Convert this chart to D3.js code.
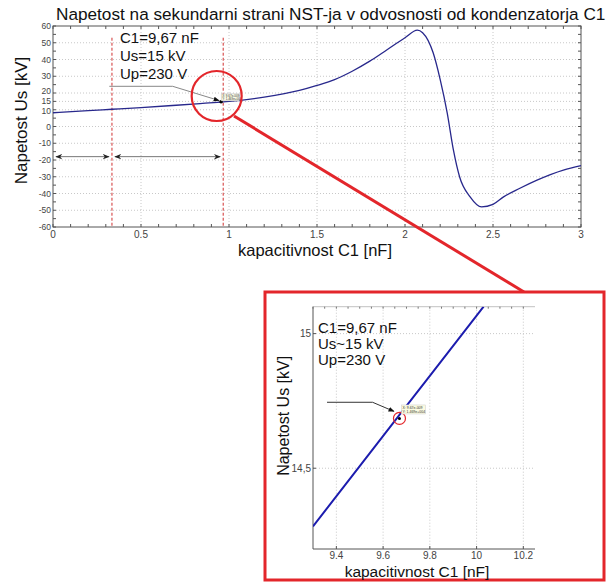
<!DOCTYPE html>
<html>
<head>
<meta charset="utf-8">
<script src="https://cdn.jsdelivr.net/npm/d3@7/dist/d3.min.js"></script>
<style>
  body { margin: 0; background: #fff; }
  svg { display: block; font-family: "Liberation Sans", Arial, sans-serif; }
</style>
</head>
<body>
<svg id="chart" width="609" height="582"></svg>
<script>
// main chart data (C1 in nF, Us in kV)
const mainX = [0, 0.2, 0.335, 0.5, 0.7, 0.85, 0.967, 1.2, 1.4, 1.5, 1.6, 1.7, 1.8, 1.9, 2.0, 2.07, 2.1, 2.16, 2.2, 2.24, 2.275, 2.31, 2.37, 2.435, 2.5, 2.56, 2.65, 2.75, 2.9, 3.0];
const mainY = [8.2, 9.5, 10.3, 11.3, 12.7, 13.8, 14.67, 17.5, 21.5, 24.5, 28, 33, 39, 46, 53, 57.5, 56, 44, 28, 8, -14, -30, -42, -48, -46.5, -42, -37, -32, -26, -23.4];
const xTicks = [0, 0.5, 1, 1.5, 2, 2.5, 3];
const yTicks = [60, 50, 40, 30, 20, 15, 10, 0, -10, -20, -30, -40, -50, -60];
const dashedX = [0.335, 0.967];
const spanStarts = [0, 0.335];
const spanEnds = [0.335, 0.967];
const spanY = -18;
const mainNotes = ["C1=9,67 nF", "Us=15 kV", "Up=230 V"];

// zoomed inset data
const insetX = [9.3, 9.5, 9.67, 9.8, 10.03];
const insetY = [14.284, 14.508, 14.698, 14.843, 15.1];
const insetXTicks = [9.4, 9.6, 9.8, 10, 10.2];
const insetXLabels = ["9.4", "9.6", "9.8", "10", "10.2"];
const insetYTicks = [14.5, 15];
const insetYLabels = ["14,5", "15"];
const insetNotes = ["C1=9,67 nF", "Us~15 kV", "Up=230 V"];
const tipText = ["X: 9.67e-009", "Y: 1.469e+004"];

const svg = d3.select('#chart');
const lineColor = '#28288c';
const gridColor = '#c8c8c8';
const red = '#e3262b';

// ---------- main plot ----------
const x = d3.scaleLinear().domain([0, 3]).range([53, 581]);
const y = d3.scaleLinear().domain([-60, 60]).range([227, 26]);

const main = svg.append('g');

main.append('g').selectAll('line').data(xTicks.slice(1, -1)).join('line')
  .attr('x1', d => x(d)).attr('x2', d => x(d))
  .attr('y1', y(60)).attr('y2', y(-60))
  .attr('stroke', gridColor).attr('stroke-dasharray', '1,2');
main.append('g').selectAll('line').data(yTicks.slice(1, -1)).join('line')
  .attr('x1', x(0)).attr('x2', x(3))
  .attr('y1', d => y(d)).attr('y2', d => y(d))
  .attr('stroke', gridColor).attr('stroke-dasharray', '1,2');

// box + axes
main.append('rect').attr('x', x(0)).attr('y', y(60))
  .attr('width', x(3) - x(0)).attr('height', y(-60) - y(60))
  .attr('fill', 'none').attr('stroke', '#555').attr('stroke-width', 1);

const minorX = d3.range(0, 3.001, 0.1);
const minorY = d3.range(-60, 60.001, 5);
main.append('g').selectAll('line').data(minorX).join('line')
  .attr('x1', d => x(d)).attr('x2', d => x(d))
  .attr('y1', y(-60)).attr('y2', y(-60) - 3).attr('stroke', '#555');
main.append('g').selectAll('line').data(minorX).join('line')
  .attr('x1', d => x(d)).attr('x2', d => x(d))
  .attr('y1', y(60)).attr('y2', y(60) + 3).attr('stroke', '#555');
main.append('g').selectAll('line').data(minorY).join('line')
  .attr('x1', x(0)).attr('x2', x(0) + 3)
  .attr('y1', d => y(d)).attr('y2', d => y(d)).attr('stroke', '#555');
main.append('g').selectAll('line').data(minorY).join('line')
  .attr('x1', x(3)).attr('x2', x(3) - 3)
  .attr('y1', d => y(d)).attr('y2', d => y(d)).attr('stroke', '#555');

main.append('g').selectAll('text').data(xTicks).join('text')
  .attr('x', d => x(d)).attr('y', y(-60) + 10.5)
  .attr('text-anchor', 'middle').attr('font-size', 10).attr('fill', '#444')
  .text(d => d);
// the 20 / 15 / 10 labels sit very close, nudge the outer two apart
const yNudge = d => (d === 20 ? -1.6 : d === 10 ? 1.6 : 0);
main.append('g').selectAll('text').data(yTicks).join('text')
  .attr('x', x(0) - 2).attr('y', d => y(d) + 3 + yNudge(d))
  .attr('text-anchor', 'end').attr('font-size', 8.5).attr('fill', '#444')
  .text(d => d);

// red dashed markers
main.append('g').selectAll('line').data(dashedX).join('line')
  .attr('x1', d => x(d)).attr('x2', d => x(d))
  .attr('y1', y(53)).attr('y2', y(-60))
  .attr('stroke', '#d03030').attr('stroke-width', 1).attr('stroke-dasharray', '3,2');

// double arrows
const defs = svg.append('defs');
defs.append('marker').attr('id', 'ah').attr('viewBox', '0 0 10 10')
  .attr('refX', 9).attr('refY', 5).attr('markerWidth', 7).attr('markerHeight', 7)
  .attr('orient', 'auto-start-reverse')
  .append('path').attr('d', 'M0,1 L10,5 L0,9 L3,5 Z').attr('fill', '#222');
defs.append('marker').attr('id', 'ab').attr('viewBox', '0 0 10 10')
  .attr('refX', 9).attr('refY', 5).attr('markerWidth', 6).attr('markerHeight', 6)
  .attr('orient', 'auto')
  .append('path').attr('d', 'M0,1 L10,5 L0,9 Z').attr('fill', '#111');

main.append('g').selectAll('line').data(spanStarts).join('line')
  .attr('x1', d => x(d) + 3).attr('x2', (d, i) => x(spanEnds[i]) - 3)
  .attr('y1', y(spanY)).attr('y2', y(spanY))
  .attr('stroke', '#777').attr('stroke-width', 1)
  .attr('marker-start', 'url(#ah)').attr('marker-end', 'url(#ah)');

// curve
const mainLine = d3.line().x((d, i) => x(mainX[i])).y(d => y(d)).curve(d3.curveMonotoneX);
main.append('path').datum(mainY).attr('d', mainLine)
  .attr('fill', 'none').attr('stroke', lineColor).attr('stroke-width', 1.3);

// annotation in main plot
main.append('g').selectAll('text').data(mainNotes).join('text')
  .attr('x', 120).attr('y', (d, i) => 43 + i * 18)
  .attr('font-size', 15).attr('fill', '#111').text(d => d);
main.append('path')
  .attr('d', d3.line()([[x(0.32), y(24)], [x(0.68), y(24)], [x(0.955) - 2, y(14.9) - 1]]))
  .attr('fill', 'none').attr('stroke', '#888').attr('stroke-width', 1)
  .attr('marker-end', 'url(#ab)');
main.append('circle').attr('cx', x(0.955)).attr('cy', y(14.8)).attr('r', 1.8).attr('fill', '#000');
main.append('rect').attr('x', x(0.967) - 2).attr('y', y(19.5)).attr('width', 18).attr('height', 7)
  .attr('fill', '#fbfbe6').attr('stroke', '#bbb').attr('stroke-width', 0.5);
main.append('g').selectAll('text').data(tipText).join('text')
  .attr('x', x(0.967) - 1).attr('y', (d, i) => y(19.5) + 3 + i * 3)
  .attr('font-size', 3).attr('fill', '#333').text(d => d);

// title + labels
svg.append('text').attr('x', 56).attr('y', 20).attr('font-size', 17.2).attr('fill', '#111')
  .text('Napetost na sekundarni strani NST-ja v odvosnosti od kondenzatorja C1');
svg.append('text').attr('transform', `translate(27,${(y(60) + y(-60)) / 2 - 6}) rotate(-90)`)
  .attr('text-anchor', 'middle').attr('font-size', 17).attr('fill', '#111')
  .text('Napetost Us [kV]');
svg.append('text').attr('x', (x(0) + x(3)) / 2 - 2).attr('y', 256)
  .attr('text-anchor', 'middle').attr('font-size', 16.5).attr('fill', '#111')
  .text('kapacitivnost C1 [nF]');

// red zoom circle + connector
svg.append('circle').attr('cx', x(0.93)).attr('cy', y(18.2)).attr('r', 25)
  .attr('fill', 'none').attr('stroke', red).attr('stroke-width', 2.2);
svg.append('line').attr('x1', 234).attr('y1', 116).attr('x2', 524).attr('y2', 292)
  .attr('stroke', red).attr('stroke-width', 3);

// ---------- inset ----------
svg.append('rect').attr('x', 265).attr('y', 292).attr('width', 339).attr('height', 288)
  .attr('fill', '#fff').attr('stroke', red).attr('stroke-width', 3);

const ix = d3.scaleLinear().domain([9.3, 10.25]).range([313, 535]);
const iy = d3.scaleLinear().domain([14.2, 15.1]).range([549, 306.7]);
const inset = svg.append('g');

inset.append('g').selectAll('line').data(insetXTicks).join('line')
  .attr('x1', d => ix(d)).attr('x2', d => ix(d))
  .attr('y1', iy(15.1)).attr('y2', iy(14.2))
  .attr('stroke', gridColor).attr('stroke-dasharray', '1,2');
inset.append('g').selectAll('line').data(insetYTicks).join('line')
  .attr('x1', ix(9.3)).attr('x2', ix(10.25))
  .attr('y1', d => iy(d)).attr('y2', d => iy(d))
  .attr('stroke', gridColor).attr('stroke-dasharray', '1,2');

inset.append('line').attr('x1', ix(9.3)).attr('x2', ix(9.3)).attr('y1', iy(15.1)).attr('y2', iy(14.2))
  .attr('stroke', '#555');
inset.append('line').attr('x1', ix(9.3)).attr('x2', ix(10.25)).attr('y1', iy(14.2)).attr('y2', iy(14.2))
  .attr('stroke', '#555');
inset.append('line').attr('x1', ix(9.3)).attr('x2', ix(10.25)).attr('y1', iy(15.1)).attr('y2', iy(15.1))
  .attr('stroke', '#999').attr('stroke-width', 0.6);
inset.append('g').selectAll('line').data(d3.range(9.3, 10.25, 0.05)).join('line')
  .attr('x1', d => ix(d)).attr('x2', d => ix(d))
  .attr('y1', iy(15.1)).attr('y2', iy(15.1) + 2).attr('stroke', '#777');
inset.append('g').selectAll('line').data(insetXTicks).join('line')
  .attr('x1', d => ix(d)).attr('x2', d => ix(d))
  .attr('y1', iy(14.2)).attr('y2', iy(14.2) - 3).attr('stroke', '#555');
inset.append('g').selectAll('line').data(insetYTicks).join('line')
  .attr('x1', ix(9.3)).attr('x2', ix(9.3) + 3)
  .attr('y1', d => iy(d)).attr('y2', d => iy(d)).attr('stroke', '#555');

inset.append('g').selectAll('text').data(insetXTicks).join('text')
  .attr('x', d => ix(d)).attr('y', iy(14.2) + 10)
  .attr('text-anchor', 'middle').attr('font-size', 10).attr('fill', '#444')
  .text((d, i) => insetXLabels[i]);
inset.append('g').selectAll('text').data(insetYTicks).join('text')
  .attr('x', ix(9.3) - 2).attr('y', d => iy(d) + 3.5)
  .attr('text-anchor', 'end').attr('font-size', 10).attr('fill', '#444')
  .text((d, i) => insetYLabels[i]);

defs.append('clipPath').attr('id', 'iclip')
  .append('rect').attr('x', ix(9.3)).attr('y', iy(15.1))
  .attr('width', ix(10.25) - ix(9.3)).attr('height', iy(14.2) - iy(15.1));
const insetLine = d3.line().x((d, i) => ix(insetX[i])).y(d => iy(d));
inset.append('path').datum(insetY).attr('d', insetLine).attr('clip-path', 'url(#iclip)')
  .attr('fill', 'none').attr('stroke', '#1c1cae').attr('stroke-width', 2);

inset.append('g').selectAll('text').data(insetNotes).join('text')
  .attr('x', 318).attr('y', (d, i) => 333 + i * 16)
  .attr('font-size', 15).attr('fill', '#111').text(d => d);

// datatip in inset
inset.append('path')
  .attr('d', d3.line()([[ix(9.36), iy(14.745)], [ix(9.555), iy(14.745)], [ix(9.655) - 2, iy(14.7) - 3]]))
  .attr('fill', 'none').attr('stroke', '#333').attr('stroke-width', 1)
  .attr('marker-end', 'url(#ab)');
inset.append('circle').attr('cx', ix(9.67)).attr('cy', iy(14.685)).attr('r', 6)
  .attr('fill', 'none').attr('stroke', red).attr('stroke-width', 1.2);
inset.append('circle').attr('cx', ix(9.67)).attr('cy', iy(14.685)).attr('r', 1.5).attr('fill', '#000');
inset.append('rect').attr('x', ix(9.67) + 2).attr('y', iy(14.735)).attr('width', 24).attr('height', 9)
  .attr('fill', '#fbfbe0').attr('stroke', '#ccc').attr('stroke-width', 0.5);
inset.append('g').selectAll('text').data(tipText).join('text')
  .attr('x', ix(9.67) + 3).attr('y', (d, i) => iy(14.735) + 4 + i * 4)
  .attr('font-size', 3.5).attr('fill', '#333').text(d => d);

svg.append('text').attr('transform', `translate(289,${(iy(15.1) + iy(14.2)) / 2 - 12}) rotate(-90)`)
  .attr('text-anchor', 'middle').attr('font-size', 16).attr('fill', '#111')
  .text('Napetost Us [kV]');
svg.append('text').attr('x', 417).attr('y', 577)
  .attr('text-anchor', 'middle').attr('font-size', 15.5).attr('fill', '#111')
  .text('kapacitivnost C1 [nF]');
</script>
</body>
</html>
